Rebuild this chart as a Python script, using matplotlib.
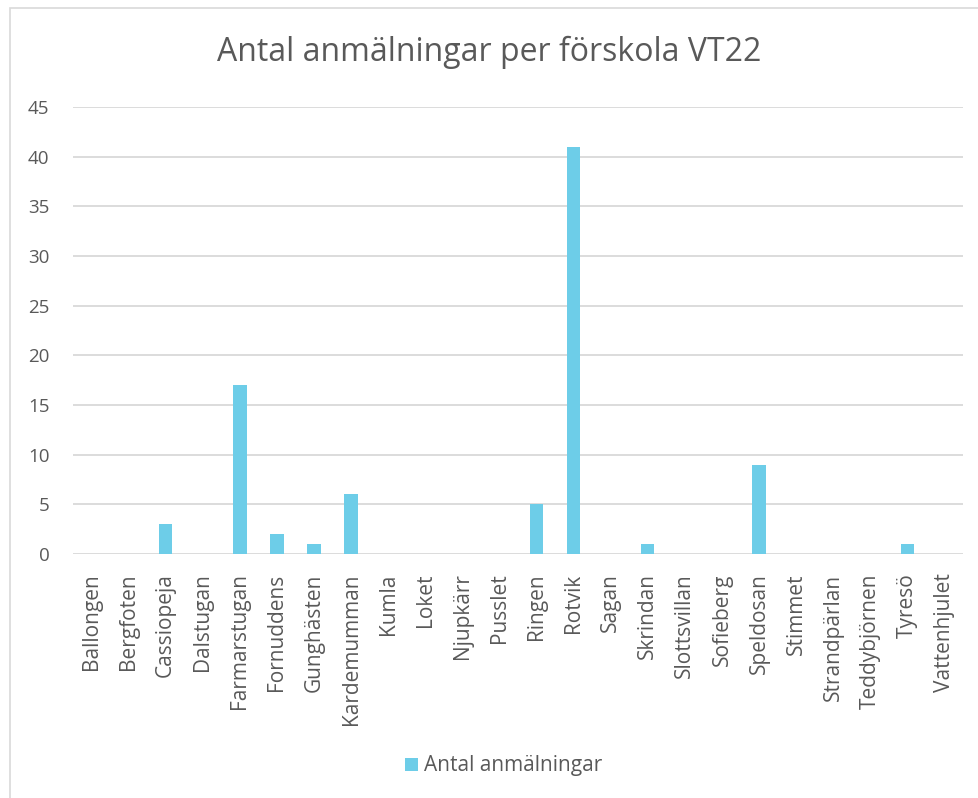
import matplotlib
matplotlib.use("Agg")
import matplotlib.pyplot as plt
from matplotlib.patches import Rectangle, Patch

categories = ["Ballongen", "Bergfoten", "Cassiopeja", "Dalstugan", "Farmarstugan",
              "Fornuddens", "Gunghästen", "Kardemumman", "Kumla", "Loket", "Njupkärr",
              "Pusslet", "Ringen", "Rotvik", "Sagan", "Skrindan", "Slottsvillan",
              "Sofieberg", "Speldosan", "Stimmet", "Strandpärlan", "Teddybjörnen",
              "Tyresö", "Vattenhjulet"]
values = [0, 0, 3, 0, 17, 2, 1, 6, 0, 0, 0, 0, 5, 41, 0, 1, 0, 0, 9, 0, 0, 0, 1, 0]
yticks = [0, 5, 10, 15, 20, 25, 30, 35, 40, 45]
title = "Antal anmälningar per förskola VT22"
series_name = "Antal anmälningar"

plt.rcParams['font.family'] = ['Open Sans', 'DejaVu Sans']
W, H = 979, 798
fig = plt.figure(figsize=(W / 100, H / 100), dpi=100)

# chart border
fig.patches.append(Rectangle((10 / W, -0.02), 1.05, 1 - 8 / H + 0.02, transform=fig.transFigure,
                             fill=False, edgecolor="#d9d9d9", linewidth=1.2))

ax = fig.add_axes([73 / W, 1 - 554 / H, 890 / W, (554 - 107) / H])
color = "#6dcde8"
text_color = "#595959"
x = list(range(len(categories)))
ax.bar(x, values, width=0.36, color=color, zorder=3)
ax.set_xlim(-0.5, len(categories) - 0.5)
ax.set_ylim(0, 45)
ax.set_yticks(yticks)
ax.set_yticklabels([str(v) for v in yticks], fontsize=13.5, color=text_color)
ax.set_xticks(x)
ax.set_xticklabels(categories, rotation=90, fontsize=15, color=text_color)
ax.tick_params(axis="both", length=0)
ax.tick_params(axis="y", pad=17)
ax.tick_params(axis="x", pad=14)
ax.grid(axis="y", color="#d9d9d9", linewidth=1.3, zorder=0)
for s in ax.spines.values():
    s.set_visible(False)

fig.text(0.5, 1 - 52 / H, title, ha="center", va="center", fontsize=23, color=text_color)

handle = Patch(facecolor=color, edgecolor="none")
fig.legend([handle], [series_name], loc="center", bbox_to_anchor=(504 / W, 1 - 766 / H),
           frameon=False, fontsize=15, labelcolor=text_color, handlelength=0.6,
           handleheight=0.6, handletextpad=0.3)

fig.savefig("out.png", dpi=100)
